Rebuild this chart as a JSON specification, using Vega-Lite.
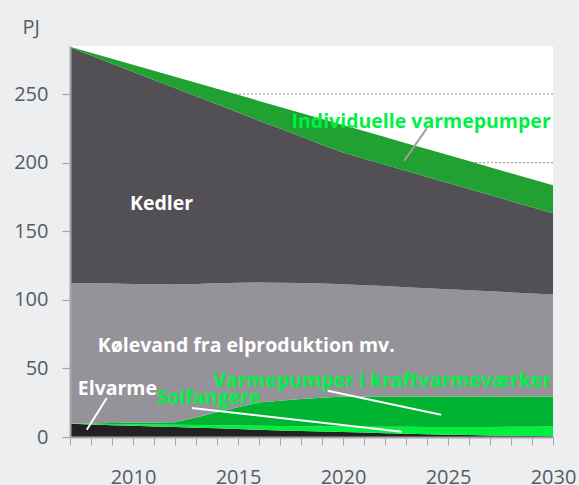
{
  "$schema": "https://vega.github.io/schema/vega-lite/v6.json",
  "autosize": {"type": "none"},
  "padding": {"left": 70, "top": 46, "right": 26, "bottom": 48},
  "width": 483,
  "height": 391,
  "background": "#edeef0",
  "config": {
    "view": {"fill": "white", "stroke": null},
    "font": "Open Sans",
    "axisX": {"labelOverlap": false, "labelFlush": false},
    "axisY": {"labelOverlap": false}
  },
  "datasets": {
    "energi": [
      {"year": 2007, "kilde": "Elvarme", "rank": 1, "PJ": 9.6}, {"year": 2008, "kilde": "Elvarme", "rank": 1, "PJ": 9.1}, {"year": 2009, "kilde": "Elvarme", "rank": 1, "PJ": 8.6}, {"year": 2010, "kilde": "Elvarme", "rank": 1, "PJ": 8.2}, {"year": 2011, "kilde": "Elvarme", "rank": 1, "PJ": 7.7}, {"year": 2012, "kilde": "Elvarme", "rank": 1, "PJ": 7.3}, {"year": 2013, "kilde": "Elvarme", "rank": 1, "PJ": 6.8}, {"year": 2014, "kilde": "Elvarme", "rank": 1, "PJ": 6.3}, {"year": 2015, "kilde": "Elvarme", "rank": 1, "PJ": 5.8}, {"year": 2016, "kilde": "Elvarme", "rank": 1, "PJ": 5.3}, {"year": 2017, "kilde": "Elvarme", "rank": 1, "PJ": 4.8}, {"year": 2018, "kilde": "Elvarme", "rank": 1, "PJ": 4.4}, {"year": 2019, "kilde": "Elvarme", "rank": 1, "PJ": 4.0}, {"year": 2020, "kilde": "Elvarme", "rank": 1, "PJ": 3.6}, {"year": 2021, "kilde": "Elvarme", "rank": 1, "PJ": 3.2}, {"year": 2022, "kilde": "Elvarme", "rank": 1, "PJ": 2.8}, {"year": 2023, "kilde": "Elvarme", "rank": 1, "PJ": 2.4}, {"year": 2024, "kilde": "Elvarme", "rank": 1, "PJ": 2.0}, {"year": 2025, "kilde": "Elvarme", "rank": 1, "PJ": 1.7}, {"year": 2026, "kilde": "Elvarme", "rank": 1, "PJ": 1.4}, {"year": 2027, "kilde": "Elvarme", "rank": 1, "PJ": 1.1}, {"year": 2028, "kilde": "Elvarme", "rank": 1, "PJ": 0.9}, {"year": 2029, "kilde": "Elvarme", "rank": 1, "PJ": 0.7}, {"year": 2030, "kilde": "Elvarme", "rank": 1, "PJ": 0.6},
      {"year": 2007, "kilde": "Solfangere", "rank": 2, "PJ": 0.2}, {"year": 2008, "kilde": "Solfangere", "rank": 2, "PJ": 0.5}, {"year": 2009, "kilde": "Solfangere", "rank": 2, "PJ": 0.8}, {"year": 2010, "kilde": "Solfangere", "rank": 2, "PJ": 1.1}, {"year": 2011, "kilde": "Solfangere", "rank": 2, "PJ": 1.4}, {"year": 2012, "kilde": "Solfangere", "rank": 2, "PJ": 1.7}, {"year": 2013, "kilde": "Solfangere", "rank": 2, "PJ": 2.0}, {"year": 2014, "kilde": "Solfangere", "rank": 2, "PJ": 2.3}, {"year": 2015, "kilde": "Solfangere", "rank": 2, "PJ": 2.6}, {"year": 2016, "kilde": "Solfangere", "rank": 2, "PJ": 2.9}, {"year": 2017, "kilde": "Solfangere", "rank": 2, "PJ": 3.2}, {"year": 2018, "kilde": "Solfangere", "rank": 2, "PJ": 3.5}, {"year": 2019, "kilde": "Solfangere", "rank": 2, "PJ": 3.8}, {"year": 2020, "kilde": "Solfangere", "rank": 2, "PJ": 4.1}, {"year": 2021, "kilde": "Solfangere", "rank": 2, "PJ": 4.4}, {"year": 2022, "kilde": "Solfangere", "rank": 2, "PJ": 4.7}, {"year": 2023, "kilde": "Solfangere", "rank": 2, "PJ": 5.0}, {"year": 2024, "kilde": "Solfangere", "rank": 2, "PJ": 5.3}, {"year": 2025, "kilde": "Solfangere", "rank": 2, "PJ": 5.6}, {"year": 2026, "kilde": "Solfangere", "rank": 2, "PJ": 5.9}, {"year": 2027, "kilde": "Solfangere", "rank": 2, "PJ": 6.2}, {"year": 2028, "kilde": "Solfangere", "rank": 2, "PJ": 6.5}, {"year": 2029, "kilde": "Solfangere", "rank": 2, "PJ": 6.8}, {"year": 2030, "kilde": "Solfangere", "rank": 2, "PJ": 7.0},
      {"year": 2007, "kilde": "Varmepumper i kraftvarmeværker", "rank": 3, "PJ": 0.0}, {"year": 2008, "kilde": "Varmepumper i kraftvarmeværker", "rank": 3, "PJ": 0.4}, {"year": 2009, "kilde": "Varmepumper i kraftvarmeværker", "rank": 3, "PJ": 0.8}, {"year": 2010, "kilde": "Varmepumper i kraftvarmeværker", "rank": 3, "PJ": 1.1}, {"year": 2011, "kilde": "Varmepumper i kraftvarmeværker", "rank": 3, "PJ": 1.5}, {"year": 2012, "kilde": "Varmepumper i kraftvarmeværker", "rank": 3, "PJ": 1.8}, {"year": 2013, "kilde": "Varmepumper i kraftvarmeværker", "rank": 3, "PJ": 5.5}, {"year": 2014, "kilde": "Varmepumper i kraftvarmeværker", "rank": 3, "PJ": 9.4}, {"year": 2015, "kilde": "Varmepumper i kraftvarmeværker", "rank": 3, "PJ": 13.2}, {"year": 2016, "kilde": "Varmepumper i kraftvarmeværker", "rank": 3, "PJ": 17.0}, {"year": 2017, "kilde": "Varmepumper i kraftvarmeværker", "rank": 3, "PJ": 18.5}, {"year": 2018, "kilde": "Varmepumper i kraftvarmeværker", "rank": 3, "PJ": 19.8}, {"year": 2019, "kilde": "Varmepumper i kraftvarmeværker", "rank": 3, "PJ": 20.9}, {"year": 2020, "kilde": "Varmepumper i kraftvarmeværker", "rank": 3, "PJ": 21.9}, {"year": 2021, "kilde": "Varmepumper i kraftvarmeværker", "rank": 3, "PJ": 22.0}, {"year": 2022, "kilde": "Varmepumper i kraftvarmeværker", "rank": 3, "PJ": 22.1}, {"year": 2023, "kilde": "Varmepumper i kraftvarmeværker", "rank": 3, "PJ": 22.2}, {"year": 2024, "kilde": "Varmepumper i kraftvarmeværker", "rank": 3, "PJ": 22.3}, {"year": 2025, "kilde": "Varmepumper i kraftvarmeværker", "rank": 3, "PJ": 22.3}, {"year": 2026, "kilde": "Varmepumper i kraftvarmeværker", "rank": 3, "PJ": 22.3}, {"year": 2027, "kilde": "Varmepumper i kraftvarmeværker", "rank": 3, "PJ": 22.3}, {"year": 2028, "kilde": "Varmepumper i kraftvarmeværker", "rank": 3, "PJ": 22.2}, {"year": 2029, "kilde": "Varmepumper i kraftvarmeværker", "rank": 3, "PJ": 22.1}, {"year": 2030, "kilde": "Varmepumper i kraftvarmeværker", "rank": 3, "PJ": 22.0},
      {"year": 2007, "kilde": "Kølevand fra elproduktion mv.", "rank": 4, "PJ": 102.4}, {"year": 2008, "kilde": "Kølevand fra elproduktion mv.", "rank": 4, "PJ": 102.0}, {"year": 2009, "kilde": "Kølevand fra elproduktion mv.", "rank": 4, "PJ": 101.6}, {"year": 2010, "kilde": "Kølevand fra elproduktion mv.", "rank": 4, "PJ": 101.1}, {"year": 2011, "kilde": "Kølevand fra elproduktion mv.", "rank": 4, "PJ": 100.7}, {"year": 2012, "kilde": "Kølevand fra elproduktion mv.", "rank": 4, "PJ": 100.4}, {"year": 2013, "kilde": "Kølevand fra elproduktion mv.", "rank": 4, "PJ": 97.2}, {"year": 2014, "kilde": "Kølevand fra elproduktion mv.", "rank": 4, "PJ": 94.0}, {"year": 2015, "kilde": "Kølevand fra elproduktion mv.", "rank": 4, "PJ": 90.8}, {"year": 2016, "kilde": "Kølevand fra elproduktion mv.", "rank": 4, "PJ": 87.4}, {"year": 2017, "kilde": "Kølevand fra elproduktion mv.", "rank": 4, "PJ": 86.0}, {"year": 2018, "kilde": "Kølevand fra elproduktion mv.", "rank": 4, "PJ": 84.5}, {"year": 2019, "kilde": "Kølevand fra elproduktion mv.", "rank": 4, "PJ": 83.1}, {"year": 2020, "kilde": "Kølevand fra elproduktion mv.", "rank": 4, "PJ": 81.8}, {"year": 2021, "kilde": "Kølevand fra elproduktion mv.", "rank": 4, "PJ": 81.1}, {"year": 2022, "kilde": "Kølevand fra elproduktion mv.", "rank": 4, "PJ": 80.4}, {"year": 2023, "kilde": "Kølevand fra elproduktion mv.", "rank": 4, "PJ": 79.6}, {"year": 2024, "kilde": "Kølevand fra elproduktion mv.", "rank": 4, "PJ": 78.9}, {"year": 2025, "kilde": "Kølevand fra elproduktion mv.", "rank": 4, "PJ": 78.1}, {"year": 2026, "kilde": "Kølevand fra elproduktion mv.", "rank": 4, "PJ": 77.4}, {"year": 2027, "kilde": "Kølevand fra elproduktion mv.", "rank": 4, "PJ": 76.6}, {"year": 2028, "kilde": "Kølevand fra elproduktion mv.", "rank": 4, "PJ": 75.8}, {"year": 2029, "kilde": "Kølevand fra elproduktion mv.", "rank": 4, "PJ": 75.0}, {"year": 2030, "kilde": "Kølevand fra elproduktion mv.", "rank": 4, "PJ": 74.3},
      {"year": 2007, "kilde": "Kedler", "rank": 5, "PJ": 171.8}, {"year": 2008, "kilde": "Kedler", "rank": 5, "PJ": 166.1}, {"year": 2009, "kilde": "Kedler", "rank": 5, "PJ": 160.3}, {"year": 2010, "kilde": "Kedler", "rank": 5, "PJ": 154.7}, {"year": 2011, "kilde": "Kedler", "rank": 5, "PJ": 149.0}, {"year": 2012, "kilde": "Kedler", "rank": 5, "PJ": 143.1}, {"year": 2013, "kilde": "Kedler", "rank": 5, "PJ": 136.9}, {"year": 2014, "kilde": "Kedler", "rank": 5, "PJ": 130.5}, {"year": 2015, "kilde": "Kedler", "rank": 5, "PJ": 124.1}, {"year": 2016, "kilde": "Kedler", "rank": 5, "PJ": 118.0}, {"year": 2017, "kilde": "Kedler", "rank": 5, "PJ": 112.3}, {"year": 2018, "kilde": "Kedler", "rank": 5, "PJ": 106.8}, {"year": 2019, "kilde": "Kedler", "rank": 5, "PJ": 101.3}, {"year": 2020, "kilde": "Kedler", "rank": 5, "PJ": 95.9}, {"year": 2021, "kilde": "Kedler", "rank": 5, "PJ": 92.2}, {"year": 2022, "kilde": "Kedler", "rank": 5, "PJ": 88.5}, {"year": 2023, "kilde": "Kedler", "rank": 5, "PJ": 84.8}, {"year": 2024, "kilde": "Kedler", "rank": 5, "PJ": 81.1}, {"year": 2025, "kilde": "Kedler", "rank": 5, "PJ": 77.5}, {"year": 2026, "kilde": "Kedler", "rank": 5, "PJ": 73.8}, {"year": 2027, "kilde": "Kedler", "rank": 5, "PJ": 70.2}, {"year": 2028, "kilde": "Kedler", "rank": 5, "PJ": 66.5}, {"year": 2029, "kilde": "Kedler", "rank": 5, "PJ": 62.9}, {"year": 2030, "kilde": "Kedler", "rank": 5, "PJ": 59.2},
      {"year": 2007, "kilde": "Individuelle varmepumper", "rank": 6, "PJ": 0.5}, {"year": 2008, "kilde": "Individuelle varmepumper", "rank": 6, "PJ": 2.0}, {"year": 2009, "kilde": "Individuelle varmepumper", "rank": 6, "PJ": 3.6}, {"year": 2010, "kilde": "Individuelle varmepumper", "rank": 6, "PJ": 5.1}, {"year": 2011, "kilde": "Individuelle varmepumper", "rank": 6, "PJ": 6.6}, {"year": 2012, "kilde": "Individuelle varmepumper", "rank": 6, "PJ": 8.2}, {"year": 2013, "kilde": "Individuelle varmepumper", "rank": 6, "PJ": 9.8}, {"year": 2014, "kilde": "Individuelle varmepumper", "rank": 6, "PJ": 11.3}, {"year": 2015, "kilde": "Individuelle varmepumper", "rank": 6, "PJ": 12.9}, {"year": 2016, "kilde": "Individuelle varmepumper", "rank": 6, "PJ": 14.4}, {"year": 2017, "kilde": "Individuelle varmepumper", "rank": 6, "PJ": 15.8}, {"year": 2018, "kilde": "Individuelle varmepumper", "rank": 6, "PJ": 17.2}, {"year": 2019, "kilde": "Individuelle varmepumper", "rank": 6, "PJ": 18.7}, {"year": 2020, "kilde": "Individuelle varmepumper", "rank": 6, "PJ": 20.1}, {"year": 2021, "kilde": "Individuelle varmepumper", "rank": 6, "PJ": 20.1}, {"year": 2022, "kilde": "Individuelle varmepumper", "rank": 6, "PJ": 20.1}, {"year": 2023, "kilde": "Individuelle varmepumper", "rank": 6, "PJ": 20.2}, {"year": 2024, "kilde": "Individuelle varmepumper", "rank": 6, "PJ": 20.3}, {"year": 2025, "kilde": "Individuelle varmepumper", "rank": 6, "PJ": 20.3}, {"year": 2026, "kilde": "Individuelle varmepumper", "rank": 6, "PJ": 20.3}, {"year": 2027, "kilde": "Individuelle varmepumper", "rank": 6, "PJ": 20.3}, {"year": 2028, "kilde": "Individuelle varmepumper", "rank": 6, "PJ": 20.4}, {"year": 2029, "kilde": "Individuelle varmepumper", "rank": 6, "PJ": 20.4}, {"year": 2030, "kilde": "Individuelle varmepumper", "rank": 6, "PJ": 20.4}
    ],
    "gitter": [{"PJ": 50}, {"PJ": 100}, {"PJ": 150}, {"PJ": 200}, {"PJ": 250}],
    "etiketter": [
      {"tekst": "Individuelle varmepumper", "year": 2017.55, "PJ": 225.0, "tone": "grøn"},
      {"tekst": "Kedler", "year": 2009.86, "PJ": 165.5, "tone": "hvid"},
      {"tekst": "Kølevand fra elproduktion mv.", "year": 2008.32, "PJ": 62.3, "tone": "hvid"},
      {"tekst": "Varmepumper i kraftvarmeværker", "year": 2013.82, "PJ": 36.4, "tone": "grøn"},
      {"tekst": "Elvarme", "year": 2007.37, "PJ": 30.8, "tone": "hvid"},
      {"tekst": "Solfangere", "year": 2011.13, "PJ": 24.3, "tone": "grøn"}
    ],
    "linjer": [
      {"serie": "Individuelle varmepumper", "year": 2023.99, "PJ": 225.0, "year2": 2022.92, "PJ2": 201.4, "tone": "grå"},
      {"serie": "Elvarme", "year": 2008.75, "PJ": 28.4, "year2": 2007.8, "PJ2": 5.3, "tone": "hvid"},
      {"serie": "Solfangere", "year": 2012.8, "PJ": 21.1, "year2": 2022.8, "PJ2": 3.9, "tone": "hvid"},
      {"serie": "Varmepumper i kraftvarmeværker", "year": 2019.27, "PJ": 33.7, "year2": 2024.67, "PJ2": 16.2, "tone": "hvid"}
    ]
  },
  "layer": [
    {
      "data": {"name": "gitter"},
      "mark": {"type": "rule", "color": "#9a9a9a", "strokeWidth": 1, "strokeDash": [2, 2]},
      "encoding": {
        "y": {"field": "PJ", "type": "quantitative"}
      }
    },
    {
      "data": {"name": "energi"},
      "mark": {"type": "area", "interpolate": "linear"},
      "encoding": {
        "x": {
          "field": "year", "type": "quantitative",
          "scale": {"domain": [2007, 2030], "nice": false, "zero": false},
          "axis": {
            "values": [2007, 2008, 2009, 2010, 2011, 2012, 2013, 2014, 2015, 2016, 2017, 2018, 2019, 2020, 2021, 2022, 2023, 2024, 2025, 2026, 2027, 2028, 2029, 2030],
            "tickCount": 40,
            "format": "d",
            "labelExpr": "datum.value % 5 === 0 ? datum.label : ''",
            "labelOverlap": false, "labelFlush": false,
            "grid": false, "title": null,
            "domainColor": "#a6a6a6", "domainWidth": 2,
            "tickColor": "#a6a6a6", "tickWidth": 1, "tickSize": 8,
            "labelFontSize": 20, "labelColor": "#555b65", "labelPadding": 22, "labelFont": "Open Sans",
            "zindex": 1
          }
        },
        "y": {
          "field": "PJ", "type": "quantitative", "stack": "zero",
          "scale": {"domain": [0, 285], "nice": false},
          "axis": {
            "values": [0, 50, 100, 150, 200, 250],
            "grid": false,
            "domainColor": "#a6a6a6", "domainWidth": 2,
            "tickColor": "#a6a6a6", "tickWidth": 1.2, "tickSize": 8,
            "labelFontSize": 20, "labelColor": "#555b65", "labelPadding": 14, "labelFont": "Open Sans",
            "title": "PJ", "titleAngle": 0, "titleFontSize": 20, "titleFontWeight": "normal", "titleColor": "#555b65", "titleFont": "Open Sans",
            "titleAlign": "left", "titleBaseline": "alphabetic", "titleX": -48, "titleY": -13,
            "zindex": 1
          }
        },
        "color": {
          "field": "kilde", "type": "nominal",
          "scale": {
            "domain": ["Elvarme", "Solfangere", "Varmepumper i kraftvarmeværker", "Kølevand fra elproduktion mv.", "Kedler", "Individuelle varmepumper"],
            "range": ["#231f22", "#00f040", "#00b331", "#959399", "#525055", "#21a131"]
          },
          "legend": null
        },
        "order": {"field": "rank", "type": "quantitative"}
      }
    },
    {
      "data": {"name": "linjer"},
      "transform": [{"filter": "datum.tone === 'hvid'"}],
      "mark": {"type": "rule", "color": "white", "strokeWidth": 2},
      "encoding": {
        "x": {"field": "year", "type": "quantitative"},
        "y": {"field": "PJ", "type": "quantitative"},
        "x2": {"field": "year2"},
        "y2": {"field": "PJ2"}
      }
    },
    {
      "data": {"name": "linjer"},
      "transform": [{"filter": "datum.tone === 'grå'"}],
      "mark": {"type": "rule", "color": "#a0a0a0", "strokeWidth": 2},
      "encoding": {
        "x": {"field": "year", "type": "quantitative"},
        "y": {"field": "PJ", "type": "quantitative"},
        "x2": {"field": "year2"},
        "y2": {"field": "PJ2"}
      }
    },
    {
      "data": {"name": "etiketter"},
      "transform": [{"filter": "datum.tone === 'hvid'"}],
      "mark": {"type": "text", "align": "left", "baseline": "alphabetic", "font": "Open Sans", "fontWeight": "bold", "fontSize": 19.5, "color": "white"},
      "encoding": {
        "x": {"field": "year", "type": "quantitative"},
        "y": {"field": "PJ", "type": "quantitative"},
        "text": {"field": "tekst"}
      }
    },
    {
      "data": {"name": "etiketter"},
      "transform": [{"filter": "datum.tone === 'grøn'"}],
      "mark": {"type": "text", "align": "left", "baseline": "alphabetic", "font": "Open Sans", "fontWeight": "bold", "fontSize": 19.5, "color": "#00f046"},
      "encoding": {
        "x": {"field": "year", "type": "quantitative"},
        "y": {"field": "PJ", "type": "quantitative"},
        "text": {"field": "tekst"}
      }
    }
  ]
}
